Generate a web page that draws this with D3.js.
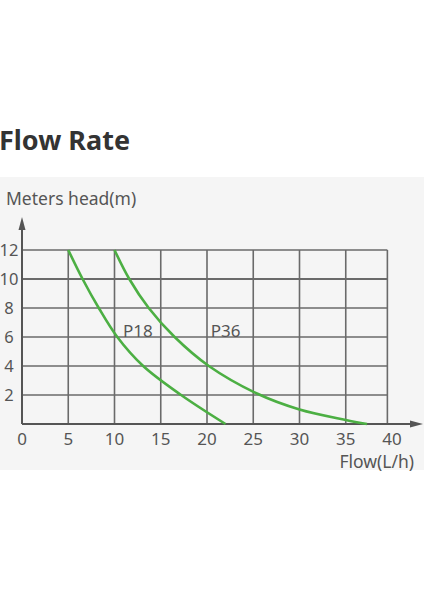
<!DOCTYPE html>
<html>
<head>
<meta charset="utf-8">
<script src="https://cdn.jsdelivr.net/npm/d3@7"></script>
<style>
  html, body { margin: 0; padding: 0; background: #fff; }
  svg text { font-family: "Noto Sans", "DejaVu Sans", sans-serif; }
</style>
</head>
<body>
<div id="holder"></div>
<script>
// tick values
const xTicks = [0, 5, 10, 15, 20, 25, 30, 35, 40];
const yTicks = [2, 4, 6, 8, 10, 12];

// pump curves, flow (L/h) vs head (m)
const p18Flow = [5, 6.55, 8.3, 10.3, 13.1, 17.2, 22];
const p18Head = [12, 10, 8, 6, 4, 2, 0];
const p36Flow = [10, 11.6, 13.7, 16.5, 20.2, 25.4, 30, 35, 37.3];
const p36Head = [12, 10, 8, 6, 4, 2.1, 1.0, 0.28, 0];

const seriesNames = ["P18", "P36"];
const labelAt = [[10.92, 6.4], [20.4, 6.4]];

const width = 424;
const height = 600;

const x = d3.scaleLinear().domain([0, 40]).range([22, 392]);
const y = d3.scaleLinear().domain([0, 12]).range([424, 250]);

const svg = d3.select("#holder")
    .append("svg")
    .attr("width", width)
    .attr("height", height);

// grey panel
svg.append("rect")
    .attr("x", 0).attr("y", 177)
    .attr("width", width).attr("height", 293)
    .attr("fill", "#f5f5f5");

// title
svg.append("text")
    .attr("x", -1).attr("y", 150)
    .attr("font-size", 27)
    .attr("font-weight", "bold")
    .attr("fill", "#333")
    .text("Flow Rate");

svg.append("text")
    .attr("x", 6).attr("y", 205)
    .attr("font-size", 17.5)
    .attr("fill", "#555")
    .text("Meters head(m)");

svg.append("text")
    .attr("x", 414).attr("y", 468)
    .attr("text-anchor", "end")
    .attr("font-size", 17.5)
    .attr("fill", "#555")
    .text("Flow(L/h)");

// grid
const gridRight = 39.5;
const grid = svg.append("g").attr("stroke", "#6a6a6a").attr("stroke-width", 1.6);
grid.selectAll("line.h")
    .data(yTicks)
    .enter()
    .append("line")
    .attr("class", "h")
    .attr("x1", x(0))
    .attr("x2", x(gridRight))
    .attr("y1", d => y(d))
    .attr("y2", d => y(d))
    .attr("stroke-width", d => d === 10 ? 2.2 : 1.6);
grid.selectAll("line.v")
    .data(xTicks.filter(d => d > 0 && d < 40).concat([gridRight]))
    .enter()
    .append("line")
    .attr("class", "v")
    .attr("x1", d => x(d))
    .attr("x2", d => x(d))
    .attr("y1", y(12))
    .attr("y2", y(0));

// axes with arrows
const axisColor = "#555";
svg.append("line")
    .attr("x1", x(0)).attr("x2", x(0))
    .attr("y1", y(0)).attr("y2", 224)
    .attr("stroke", axisColor).attr("stroke-width", 2);
svg.append("path")
    .attr("d", `M${x(0)},217 L${x(0) - 3.5},230 L${x(0) + 3.5},230 Z`)
    .attr("fill", axisColor);
svg.append("line")
    .attr("x1", x(0)).attr("x2", 414)
    .attr("y1", y(0)).attr("y2", y(0))
    .attr("stroke", axisColor).attr("stroke-width", 2);
svg.append("path")
    .attr("d", `M423,${y(0)} L410,${y(0) - 3.5} L410,${y(0) + 3.5} Z`)
    .attr("fill", axisColor);

// tick labels
svg.selectAll("text.xt")
    .data(xTicks)
    .enter()
    .append("text")
    .attr("class", "xt")
    .attr("x", d => x(d))
    .attr("y", 445)
    .attr("text-anchor", "middle")
    .attr("font-size", 17)
    .attr("fill", "#555")
    .text(d => d);
svg.selectAll("text.yt")
    .data(yTicks)
    .enter()
    .append("text")
    .attr("class", "yt")
    .attr("x", 9)
    .attr("y", d => y(d))
    .attr("dy", "0.35em")
    .attr("text-anchor", "middle")
    .attr("font-size", 16.5)
    .attr("fill", "#555")
    .text(d => d);

// curves
const series = [
    d3.zip(p18Flow, p18Head),
    d3.zip(p36Flow, p36Head)
];
const line = d3.line()
    .x(d => x(d[0]))
    .y(d => y(d[1]))
    .curve(d3.curveCatmullRom.alpha(0.5));

svg.selectAll("path.curve")
    .data(series)
    .enter()
    .append("path")
    .attr("class", "curve")
    .attr("d", line)
    .attr("fill", "none")
    .attr("stroke", "#4caf43")
    .attr("stroke-width", 2.6);

svg.selectAll("text.lbl")
    .data(seriesNames)
    .enter()
    .append("text")
    .attr("class", "lbl")
    .attr("x", (d, i) => x(labelAt[i][0]))
    .attr("y", (d, i) => y(labelAt[i][1]) + 6)
    .attr("font-size", 17)
    .attr("fill", "#555")
    .text(d => d);
</script>
</body>
</html>
